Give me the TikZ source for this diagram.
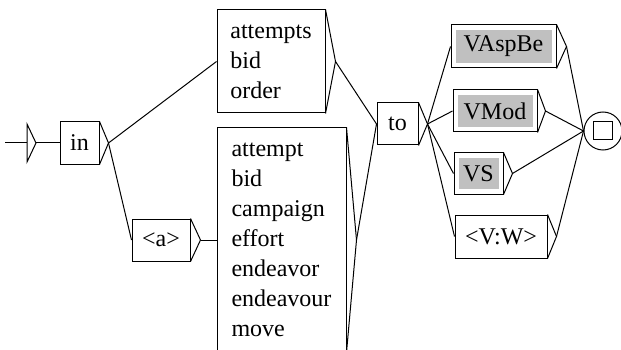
\documentclass[tikz,border=0pt]{standalone}
\usepackage{fontspec}
\setmainfont{Liberation Serif}
\usetikzlibrary{calc}
\definecolor{silver}{RGB}{192,192,192}

\tikzset{
    box/.style={draw, line width=1pt, inner sep=0pt, align=left,
        font=\fontsize{24}{30}\selectfont},
    gbox/.style={box, path picture={
        \fill[silver] ([shift={(5pt,-5pt)}]path picture bounding box.north west)
            rectangle ([shift={(-4pt,5pt)}]path picture bounding box.south east);}},
}
% output triangle of a box
\newcommand{\outtri}[2]{\draw (#1.north east) -- ($(#1.east)+(#2,0)$) coordinate (#1-out) -- (#1.south east);}

\begin{document}
\begin{tikzpicture}[x=1pt, y=-1pt, line width=1pt]
\useasboundingbox (0,0) rectangle (621,350);
\clip (0,0) rectangle (621,350);

% Initial state
\draw (27,124) -- (36,143) coordinate (init-out) -- (27,162) -- cycle;
\draw (5,143) -- (27,143);

% Boxes
\node[box, minimum width=39, minimum height=42] (in) at (79.5,143) {in};
\node[box, minimum width=58, minimum height=42] (a) at (161,240) {<a>};
\node[box, minimum width=108, minimum height=103] (nouns1) at (271,61.5) {attempts\\bid\\order};
\node[box, minimum width=129, minimum height=224] (nouns2) at (281.5,240)
    {attempt\\bid\\campaign\\effort\\endeavor\\endeavour\\move};
\node[box, minimum width=41, minimum height=42] (to) at (397.5,124) {to};

\node[gbox, minimum width=105, minimum height=43] (vaspbe) at (503.5,46.5) {VAspBe};
\node[gbox, minimum width=84, minimum height=42] (vmod) at (495,111) {VMod};
\node[gbox, minimum width=49, minimum height=41] (vs) at (478.5,173.5) {VS};
\node[box, minimum width=92, minimum height=43] (vw) at (501,236.5) {<V:W>};

% Final state
\node[draw, circle, minimum size=38, inner sep=0pt] (final) at (603,131) {};
\draw ($(final)+(-9.5,-9)$) rectangle ($(final)+(9.5,9)$);

% Output triangles
\outtri{in}{9}
\outtri{a}{10}
\outtri{nouns1}{10}
\outtri{nouns2}{10}
\outtri{to}{9}
\outtri{vaspbe}{10}
\outtri{vmod}{8}
\outtri{vs}{9}
\outtri{vw}{9}

% Transitions
\draw (init-out) -- (in.west);
\draw (in-out) -- (nouns1.west);
\draw (in-out) -- (a.west);
\draw (a-out) -- (nouns2.west);
\draw (nouns1-out) -- (to.west);
\draw (nouns2-out) -- (to.west);
\foreach \v in {vaspbe, vmod, vs, vw}
    \draw (to-out) -- (\v.west);
\foreach \v in {vaspbe, vmod, vs, vw}
    \draw (\v-out) -- (final.west);
\end{tikzpicture}
\end{document}
